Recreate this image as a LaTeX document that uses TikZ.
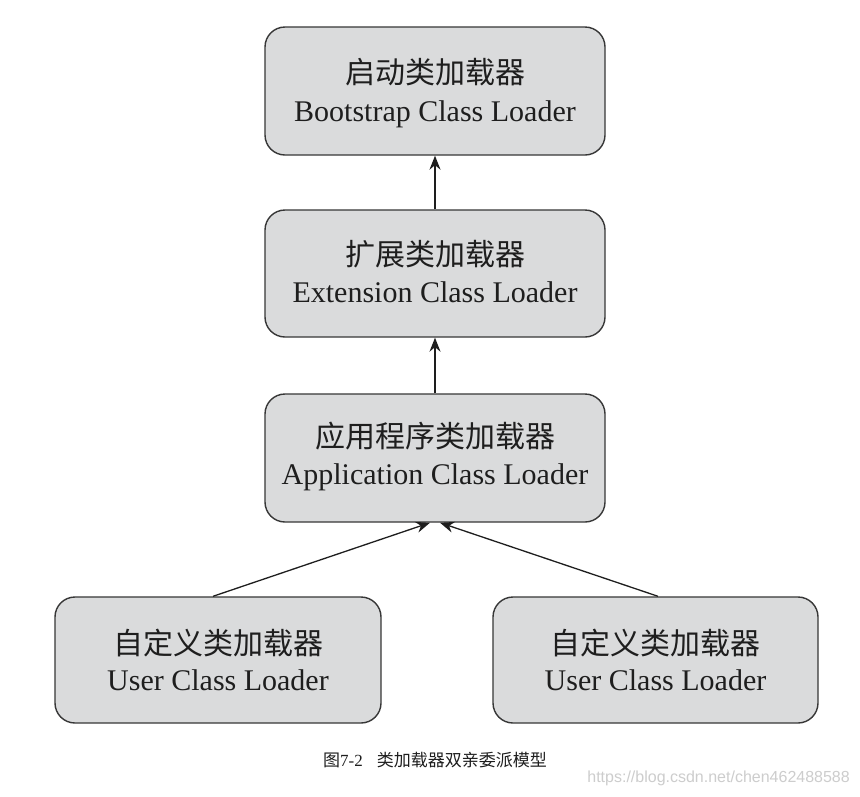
\documentclass[tikz,border=0pt]{standalone}
\usepackage{fontspec}
\setmainfont{Liberation Serif}
\newfontfamily\cjk{Noto Sans CJK SC}
\newfontfamily\wmfont{Liberation Sans}
\usetikzlibrary{arrows.meta}
\definecolor{boxfill}{RGB}{218,219,220}
\definecolor{boxline}{RGB}{55,55,55}
\definecolor{inkc}{RGB}{30,30,30}
\definecolor{wmc}{RGB}{205,205,205}
\begin{document}
\begin{tikzpicture}[x=1pt,y=-1pt,
  loader/.style={draw=boxline, fill=boxfill, line width=1.4pt, rounded corners=20pt, inner sep=0pt},
  cntext/.style={anchor=base, inner sep=0pt, text=inkc, font=\cjk\fontsize{30}{36}\selectfont},
  entext/.style={anchor=base, inner sep=0pt, text=inkc, font=\fontsize{30}{36}\selectfont},
  parentarrow/.style={draw=inkc, line width=1.3pt, -{Stealth[length=14pt,width=11pt]}}]
\useasboundingbox (0,0) rectangle (860,796);
\fill[white] (0,0) rectangle (860,796);

\node[loader, minimum width=340pt, minimum height=128pt] (boot) at (435,91) {};
\node[loader, minimum width=340pt, minimum height=127pt] (ext) at (435,273.5) {};
\node[loader, minimum width=340pt, minimum height=128pt] (app) at (435,458) {};
\node[loader, minimum width=326pt, minimum height=126pt] (user1) at (218,660) {};
\node[loader, minimum width=325pt, minimum height=126pt] (user2) at (655.5,660) {};

\node[cntext] (boot-cn) at (435,83) {启动类加载器};
\node[entext] (boot-en) at (435,121) {Bootstrap Class Loader};
\node[cntext] (ext-cn) at (435,265) {扩展类加载器};
\node[entext] (ext-en) at (435,302.5) {Extension Class Loader};
\node[cntext] (app-cn) at (435,447.5) {应用程序类加载器};
\node[entext] (app-en) at (435,484) {Application Class Loader};
\node[cntext] (user1-cn) at (218,654) {自定义类加载器};
\node[entext] (user1-en) at (218,690) {User Class Loader};
\node[cntext] (user2-cn) at (655.5,654) {自定义类加载器};
\node[entext] (user2-en) at (655.5,690) {User Class Loader};

\draw[parentarrow] (ext.north) -- (boot.south);
\draw[parentarrow] (app.north) -- (ext.south);
\draw[parentarrow] ([xshift=-5pt]user1.north) -- ([xshift=-5pt]app.south);
\draw[parentarrow] ([xshift=2.5pt]user2.north) -- ([xshift=5pt]app.south);

\node[font=\fontsize{17}{19}\selectfont, text=inkc, inner sep=0pt] (cap) at (435,760) {{\cjk 图}7-2\hspace{14pt}{\cjk 类加载器双亲委派模型}};
\node[anchor=east, font=\wmfont\fontsize{16}{18}\selectfont, text=wmc, inner sep=0pt] (wm) at (850,778) {https://blog.csdn.net/chen462488588};
\end{tikzpicture}
\end{document}
